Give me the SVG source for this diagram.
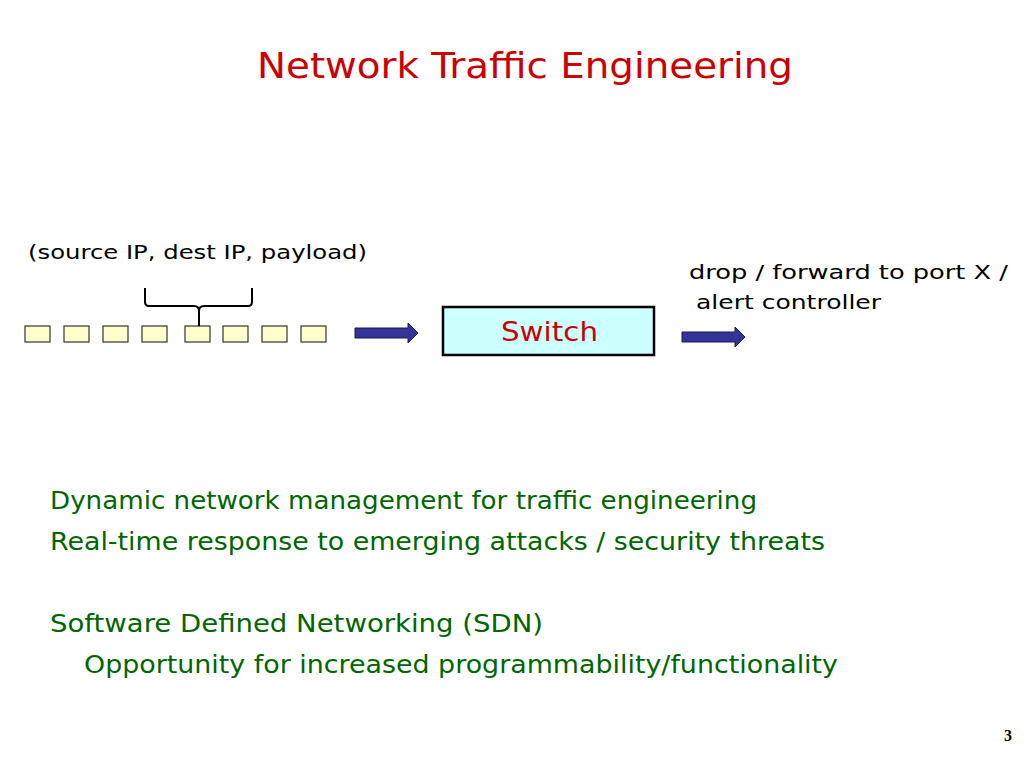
<svg xmlns="http://www.w3.org/2000/svg" width="1024" height="768" viewBox="0 0 1024 768">
<style>
text{font-family:"DejaVu Sans","Open Sans",sans-serif}
.pk{fill:#ffffcc;stroke:#333;stroke-width:1.2}
.g{fill:#006600;font-size:24px}
.k{fill:#000;font-size:20px}
.ar{fill:#333399;stroke:#1a1a4d;stroke-width:1}
</style>
<rect width="1024" height="768" fill="#fff"/>
<text x="257" y="78" font-size="35" fill="#cc0000" textLength="536" lengthAdjust="spacingAndGlyphs">Network Traffic Engineering</text>
<g id="packets">
<rect class="pk" x="25" y="326" width="25" height="16"/>
<rect class="pk" x="64" y="326" width="25" height="16"/>
<rect class="pk" x="103" y="326" width="25" height="16"/>
<rect class="pk" x="142" y="326" width="25" height="16"/>
<rect class="pk" x="185" y="326" width="25" height="16"/>
<rect class="pk" x="223" y="326" width="25" height="16"/>
<rect class="pk" x="262" y="326" width="25" height="16"/>
<rect class="pk" x="301" y="326" width="25" height="16"/>
</g>
<g id="brace" fill="none" stroke="#000" stroke-width="2">
<path d="M145 288 V302 Q145 306 149 306 H194 Q199 306 199 311 V326 M199 311 Q199 306 204 306 H248 Q252 306 252 302 V288"/>
</g>
<text class="k" x="28" y="259" textLength="339" lengthAdjust="spacingAndGlyphs">(source IP, dest IP, payload)</text>
<g id="switch">
<rect x="443" y="307" width="211" height="48" fill="#ccffff" stroke="#000" stroke-width="2.5"/>
<text x="501" y="341" font-size="26" fill="#cc0000" textLength="97" lengthAdjust="spacingAndGlyphs">Switch</text>
</g>
<text class="k" x="689" y="279" textLength="319" lengthAdjust="spacingAndGlyphs">drop / forward to port X /</text>
<text class="k" x="696" y="309" textLength="185" lengthAdjust="spacingAndGlyphs">alert controller</text>
<g id="connectors">
<path class="ar" d="M355 328 H408 V323 L418 333 L408 343 V338 H355 Z"/>
<path class="ar" d="M682 332 H735 V327 L745 337 L735 347 V342 H682 Z"/>
</g>
<text class="g" x="50" y="509" textLength="707" lengthAdjust="spacingAndGlyphs">Dynamic network management for traffic engineering</text>
<text class="g" x="50" y="550" textLength="775" lengthAdjust="spacingAndGlyphs">Real-time response to emerging attacks / security threats</text>
<text class="g" x="50" y="632" textLength="493" lengthAdjust="spacingAndGlyphs">Software Defined Networking (SDN)</text>
<text class="g" x="84" y="673" textLength="754" lengthAdjust="spacingAndGlyphs">Opportunity for increased programmability/functionality</text>
<text x="1008" y="741" text-anchor="middle" font-size="16" font-weight="bold" style="font-family:'Liberation Serif',serif">3</text>
</svg>
